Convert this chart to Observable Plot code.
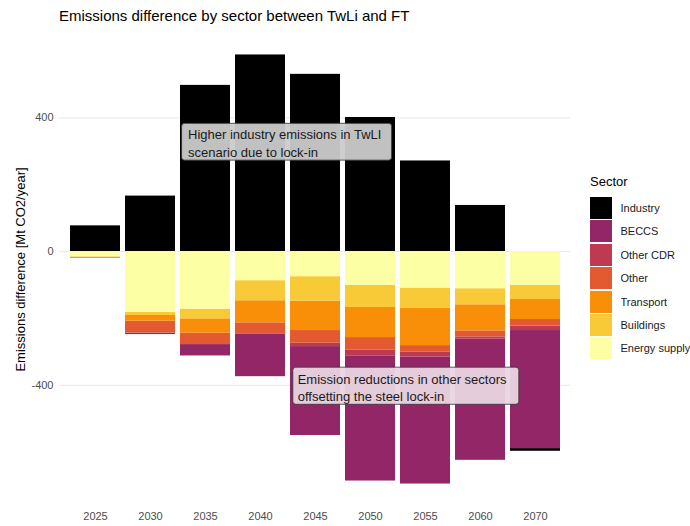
<!DOCTYPE html>
<html>
<head>
<meta charset="utf-8">
<script src="https://cdn.jsdelivr.net/npm/d3@7"></script>
<script src="https://cdn.jsdelivr.net/npm/@observablehq/plot@0.6"></script>
<style>
  body { margin: 0; background: #fff; font-family: "Liberation Sans", Arial, sans-serif; }
  #wrap { position: relative; width: 690px; height: 526px; overflow: hidden; }
  #title { position: absolute; left: 59px; top: 7px; font-size: 15px; color: #000; white-space: nowrap; }
  #chart { position: absolute; left: 0; top: 0; }
  #legend { position: absolute; left: 590px; top: 174px; }
  #legtitle { font-size: 13px; color: #000; height: 15px; line-height: 15px; margin-bottom: 8px; }
  #legend svg { margin-right: 8.5px !important; }
  #legend .sw-swatch { padding-bottom: 1.4px !important; }
</style>
</head>
<body>
<div id="wrap">
  <div id="chart"></div>
  <div id="title">Emissions difference by sector between TwLi and FT</div>
  <div id="legend"><div id="legtitle">Sector</div></div>
</div>
<script>
// ---- data ----
const years = ["2025", "2030", "2035", "2040", "2045", "2050", "2055", "2060", "2070"];
const sectors = ["Industry", "BECCS", "Other CDR", "Other", "Transport", "Buildings", "Energy supply"];
const sectorColors = ["#000000", "#932667", "#BF3A51", "#E35A31", "#F98E09", "#F9CA37", "#FCFFA4"];

const industry     = [77, 166, 497, 588, 530, 401, 271, 138, -8];
const beccs        = [0, -4, -34, -128, -266, -373, -380, -362, -353];
const otherCdr     = [0, -1, 0, 0, -10, -18, -14, -7, -13];
const other        = [-2, -35, -34, -33, -38, -38, -20, -18, -20];
const transport    = [-2, -17, -43, -66, -88, -90, -112, -78, -60];
const buildings    = [0, -9, -29, -60, -73, -66, -60, -48, -42];
const energySupply = [-16, -182, -172, -87, -75, -101, -109, -111, -101];

const yTicks = [-400, 0, 400];
const yLabel = "Emissions difference [Mt CO2/year]";
const note1 = "Higher industry emissions in TwLI\nscenario due to lock-in";
const note2 = "Emission reductions in other sectors\noffsetting the steel lock-in";

// ---- build table ----
const seriesBySector = [industry, beccs, otherCdr, other, transport, buildings, energySupply];
const rows = sectors.flatMap((s, i) =>
  years.map((yr, j) => ({ year: yr, sector: s, value: seriesBySector[i][j] }))
).filter(d => d.value !== 0);

const stackOrder = sectors.slice().reverse();

const posSums = years.map((_, j) => d3.sum(seriesBySector, s => Math.max(0, s[j])));
const negSums = years.map((_, j) => d3.sum(seriesBySector, s => Math.min(0, s[j])));
const yMax = d3.max(posSums), yMin = d3.min(negSums);
const pad = 0.05 * (yMax - yMin);

const font = "Liberation Sans, Arial, sans-serif";

const chart = Plot.plot({
  width: 690,
  height: 526,
  marginTop: 33,
  marginBottom: 21,
  marginLeft: 59,
  marginRight: 120,
  style: { fontFamily: font, fontSize: "11px", background: "transparent", overflow: "visible" },
  x: { type: "band", domain: years, paddingInner: 0.1, paddingOuter: 0.15, axis: null },
  y: { domain: [yMin - pad, yMax + pad], axis: null },
  color: { type: "ordinal", domain: sectors, range: sectorColors },
  marks: [
    Plot.gridY(yTicks, { stroke: "#ebebeb", strokeOpacity: 1, strokeWidth: 1.1 }),
    Plot.barY(rows, { x: "year", y: "value", fill: "sector", order: stackOrder }),
    // annotation 1
    Plot.barY([note1], { x: () => "2035", y1: () => 272, y2: () => 382, fill: "#cbcbcb", fillOpacity: 0.95,
      stroke: "#333", strokeWidth: 0.8, rx: 3, insetLeft: 1.6, insetRight: -161.6 }),
    Plot.text([note1], { x: () => "2035", y: () => 327, text: d => d, textAnchor: "start", dx: -17.5,
      fontSize: 13, lineHeight: 1.36, fill: "#1a1a1a" }),
    // annotation 2
    Plot.barY([note2], { x: () => "2045", y1: () => -458, y2: () => -347, fill: "#e9d5e1", fillOpacity: 0.95,
      stroke: "#333", strokeWidth: 0.8, rx: 3, insetLeft: 2.8, insetRight: -178.8 }),
    Plot.text([note2], { x: () => "2045", y: () => -404, text: d => d, textAnchor: "start", dx: -17.8,
      fontSize: 13, lineHeight: 1.36, fill: "#1a1a1a" }),
    // axes
    Plot.axisY(yTicks, { tickSize: 0, tickPadding: 6, tickFormat: d => String(d), fontSize: 11, fill: "#4d4d4d", label: null }),
    Plot.axisX({ tickSize: 0, tickPadding: 7, fontSize: 11, fill: "#4d4d4d", label: null }),
    Plot.text([yLabel], { frameAnchor: "left", rotate: -90, dx: -39, textAnchor: "middle", text: d => d, fontSize: 13, fill: "#000" })
  ]
});
document.getElementById("chart").appendChild(chart);

const legend = chart.legend("color", {
  legend: "swatches",
  columns: 1,
  swatchSize: 22,
  className: "sw",
  style: { fontFamily: font, fontSize: "11px", color: "#1a1a1a", marginLeft: "0px" }
});
document.getElementById("legend").appendChild(legend);
</script>
</body>
</html>
